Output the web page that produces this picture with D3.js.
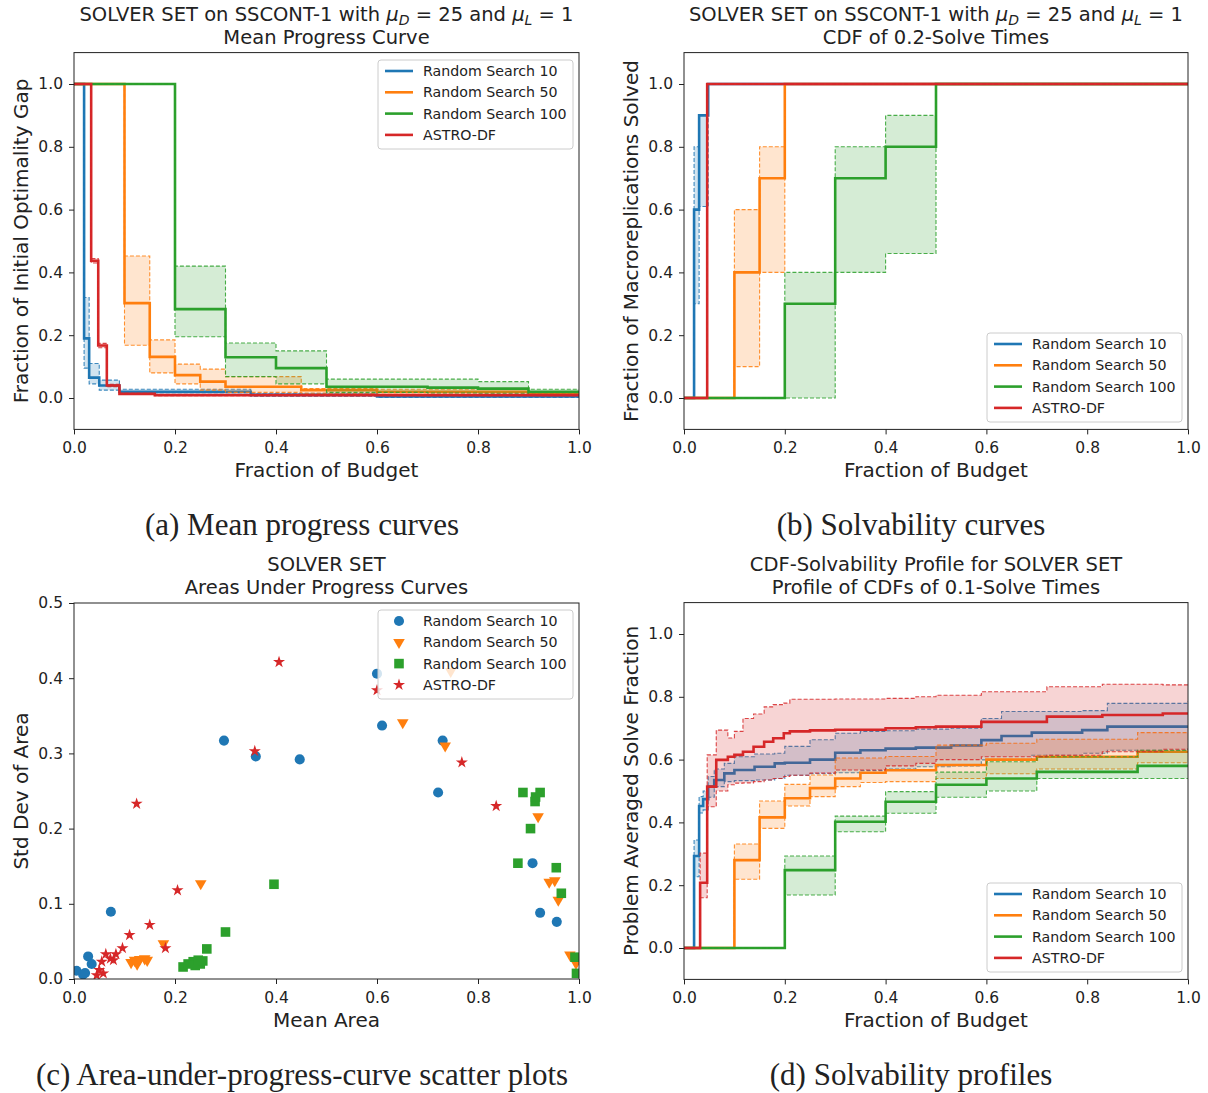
<!DOCTYPE html>
<html>
<head>
<meta charset="utf-8">
<script src="https://cdn.jsdelivr.net/npm/d3@7"></script>
<style>
  body { margin: 0; background: #fff; }
  text { font-family: "DejaVu Sans", sans-serif; fill: #222; }
  .caption { font-family: "Liberation Serif", serif; }
</style>
</head>
<body>
<svg id="fig" width="1208" height="1093"></svg>
<script>
const solvers = ["Random Search 10", "Random Search 50", "Random Search 100", "ASTRO-DF"];
const colors = ["#1f77b4", "#ff7f0e", "#2ca02c", "#d62728"];
const unitTicks = [0, 0.2, 0.4, 0.6, 0.8, 1.0];
const sdTicks = [0, 0.1, 0.2, 0.3, 0.4, 0.5];

// (a) mean progress curves, one array per solver (step after)
const mpcBudget = [
  [0, 0.02, 0.03, 0.05, 0.09, 0.35, 0.6, 1.0],
  [0, 0.1, 0.15, 0.2, 0.25, 0.3, 0.45, 0.6, 0.9, 1.0],
  [0, 0.2, 0.3, 0.4, 0.5, 0.7, 0.8, 0.9, 1.0],
  [0, 0.034, 0.048, 0.065, 0.09, 0.16, 1.0]
];
const mpcMean = [
  [1, 0.19, 0.065, 0.04, 0.02, 0.01, 0.005, 0.005],
  [1, 0.302, 0.131, 0.073, 0.052, 0.036, 0.025, 0.02, 0.015, 0.015],
  [1, 0.283, 0.13, 0.095, 0.036, 0.033, 0.03, 0.02, 0.02],
  [1, 0.437, 0.167, 0.04, 0.013, 0.009, 0.009]
];
const mpcLower = [
  [1, 0.095, 0.045, 0.025, 0.012, 0.006, 0.002, 0.002],
  [1, 0.168, 0.08, 0.045, 0.025, 0.018, 0.015, 0.012, 0.01, 0.01],
  [1, 0.195, 0.068, 0.045, 0.018, 0.016, 0.015, 0.012, 0.012],
  [1, 0.43, 0.16, 0.036, 0.011, 0.007, 0.007]
];
const mpcUpper = [
  [1, 0.32, 0.11, 0.057, 0.028, 0.015, 0.008, 0.008],
  [1, 0.452, 0.185, 0.108, 0.092, 0.068, 0.03, 0.028, 0.02, 0.02],
  [1, 0.42, 0.175, 0.15, 0.06, 0.06, 0.052, 0.028, 0.028],
  [1, 0.444, 0.174, 0.044, 0.015, 0.011, 0.011]
];

// (b) CDF of 0.2-solve times
const cdfBudget = [
  [0, 0.02, 0.03, 0.048, 1.0],
  [0, 0.1, 0.15, 0.2, 1.0],
  [0, 0.2, 0.3, 0.4, 0.5, 1.0],
  [0, 0.046, 1.0]
];
const cdfMean = [
  [0, 0.6, 0.9, 1, 1],
  [0, 0.4, 0.7, 1, 1],
  [0, 0.3, 0.7, 0.8, 1, 1],
  [0, 1, 1]
];
const cdfLower = [
  [0, 0.3, 0.61, 1, 1],
  [0, 0.1, 0.4, 1, 1],
  [0, 0, 0.4, 0.46, 1, 1],
  [0, 1, 1]
];
const cdfUpper = [
  [0, 0.8, 0.9, 1, 1],
  [0, 0.6, 0.8, 1, 1],
  [0, 0.4, 0.8, 0.9, 1, 1],
  [0, 1, 1]
];

// (c) area under progress curve: mean and std dev per macroreplication
const areaMean = [
  [0.005, 0.018, 0.022, 0.028, 0.035, 0.073, 0.297, 0.36, 0.447, 0.60, 0.61, 0.721, 0.73, 0.908, 0.923, 0.956],
  [0.113, 0.12, 0.125, 0.13, 0.14, 0.145, 0.177, 0.251, 0.651, 0.735, 0.746, 0.919, 0.941, 0.952, 0.959, 0.982, 0.994],
  [0.216, 0.226, 0.236, 0.24, 0.246, 0.25, 0.255, 0.263, 0.30, 0.396, 0.879, 0.889, 0.904, 0.913, 0.914, 0.923, 0.955, 0.965, 0.992, 0.995],
  [0.045, 0.05, 0.055, 0.058, 0.063, 0.072, 0.078, 0.083, 0.096, 0.11, 0.124, 0.15, 0.181, 0.205, 0.358, 0.406, 0.60, 0.768, 0.836]
];
const areaStd = [
  [0.011, 0.006, 0.008, 0.030, 0.020, 0.0895, 0.317, 0.296, 0.292, 0.406, 0.337, 0.248, 0.317, 0.154, 0.088, 0.076],
  [0.022, 0.025, 0.02, 0.026, 0.027, 0.025, 0.047, 0.127, 0.341, 0.31, 0.409, 0.216, 0.129, 0.131, 0.105, 0.032, 0.021],
  [0.016, 0.02, 0.023, 0.018, 0.025, 0.02, 0.024, 0.040, 0.0625, 0.126, 0.154, 0.248, 0.200, 0.236, 0.242, 0.248, 0.148, 0.114, 0.029, 0.0075],
  [0.005, 0.012, 0.023, 0.0075, 0.033, 0.027, 0.025, 0.033, 0.041, 0.0585, 0.233, 0.072, 0.041, 0.118, 0.303, 0.4215, 0.384, 0.288, 0.23]
];

// (d) profile of CDFs of 0.1-solve times
const profBudget = [
  [0, 0.02, 0.03, 0.038, 0.048, 0.06, 0.08, 0.1, 0.14, 0.18, 0.2, 0.25, 0.3, 0.35, 0.4, 0.46, 0.53, 0.59, 0.63, 0.69, 0.79, 0.84, 1.0],
  [0, 0.1, 0.15, 0.2, 0.25, 0.3, 0.35, 0.4, 0.5, 0.6, 0.7, 0.9, 1.0],
  [0, 0.2, 0.3, 0.4, 0.5, 0.6, 0.7, 0.9, 1.0],
  [0, 0.032, 0.046, 0.064, 0.087, 0.1, 0.117, 0.138, 0.159, 0.177, 0.198, 0.21, 0.25, 0.3, 0.4, 0.46, 0.5, 0.59, 0.72, 0.83, 0.95, 1.0]
];
const profMean = [
  [0, 0.293, 0.452, 0.474, 0.514, 0.535, 0.556, 0.567, 0.577, 0.588, 0.59, 0.60, 0.622, 0.63, 0.635, 0.638, 0.645, 0.662, 0.675, 0.686, 0.694, 0.705, 0.705],
  [0, 0.28, 0.416, 0.477, 0.509, 0.54, 0.558, 0.566, 0.583, 0.60, 0.609, 0.625, 0.625],
  [0, 0.248, 0.402, 0.466, 0.52, 0.54, 0.561, 0.58, 0.58],
  [0, 0.208, 0.514, 0.599, 0.609, 0.615, 0.625, 0.641, 0.657, 0.668, 0.684, 0.69, 0.693, 0.695, 0.70, 0.703, 0.705, 0.72, 0.737, 0.742, 0.747, 0.747]
];
const profLower = [
  [0, 0.227, 0.43, 0.44, 0.48, 0.514, 0.53, 0.533, 0.535, 0.54, 0.55, 0.555, 0.558, 0.565, 0.57, 0.577, 0.58, 0.599, 0.60, 0.614, 0.62, 0.63, 0.636],
  [0, 0.219, 0.381, 0.452, 0.482, 0.514, 0.527, 0.53, 0.54, 0.555, 0.57, 0.59, 0.59],
  [0, 0.169, 0.37, 0.429, 0.48, 0.5, 0.54, 0.54, 0.54],
  [0, 0.16, 0.45, 0.50, 0.52, 0.525, 0.526, 0.53, 0.535, 0.54, 0.546, 0.55, 0.557, 0.567, 0.58, 0.588, 0.60, 0.609, 0.614, 0.625, 0.633, 0.633]
];
const profUpper = [
  [0, 0.344, 0.482, 0.50, 0.546, 0.57, 0.588, 0.609, 0.618, 0.62, 0.642, 0.663, 0.684, 0.69, 0.692, 0.697, 0.70, 0.731, 0.753, 0.753, 0.756, 0.779, 0.785],
  [0, 0.331, 0.468, 0.521, 0.551, 0.605, 0.605, 0.61, 0.646, 0.652, 0.665, 0.686, 0.686],
  [0, 0.293, 0.42, 0.498, 0.56, 0.593, 0.609, 0.63, 0.63],
  [0, 0.302, 0.615, 0.694, 0.669, 0.69, 0.731, 0.745, 0.768, 0.775, 0.78, 0.792, 0.792, 0.793, 0.795, 0.80, 0.805, 0.816, 0.832, 0.84, 0.838, 0.838]
];

const svg = d3.select("#fig");
const fmt = d3.format(".1f");

function makeAxes(id, box, xDom, yDom, xTicks, yTicks) {
  const x = d3.scaleLinear().domain(xDom).range([box.left, box.right]);
  const y = d3.scaleLinear().domain(yDom).range([box.bottom, box.top]);
  const g = svg.append("g").attr("id", id);

  g.append("clipPath").attr("id", id + "-clip")
    .append("rect")
    .attr("x", box.left).attr("y", box.top)
    .attr("width", box.right - box.left).attr("height", box.bottom - box.top);

  const xAxis = g.append("g")
    .attr("transform", `translate(0,${box.bottom})`)
    .call(d3.axisBottom(x).tickValues(xTicks).tickFormat(fmt).tickSize(5).tickPadding(8));
  const yAxis = g.append("g")
    .attr("transform", `translate(${box.left},0)`)
    .call(d3.axisLeft(y).tickValues(yTicks).tickFormat(fmt).tickSize(5).tickPadding(6));
  [xAxis, yAxis].forEach(a => {
    a.select(".domain").remove();
    a.selectAll("line").attr("stroke", "#222").attr("stroke-width", 1);
    a.selectAll("text").style("font-size", "15.5px").attr("fill", "#222")
      .style("font-family", "DejaVu Sans");
  });

  const plot = g.append("g").attr("clip-path", `url(#${id}-clip)`);
  return { g, plot, x, y, box };
}

function frame(ax) {
  ax.g.append("rect")
    .attr("x", ax.box.left).attr("y", ax.box.top)
    .attr("width", ax.box.right - ax.box.left).attr("height", ax.box.bottom - ax.box.top)
    .attr("fill", "none").attr("stroke", "#222").attr("stroke-width", 1);
}

function labels(ax, title1, xLabel, yLabel, titleLine2) {
  const cx = (ax.box.left + ax.box.right) / 2;
  const cy = (ax.box.top + ax.box.bottom) / 2;
  const t = ax.g.append("text")
    .attr("x", cx).attr("y", ax.box.top - 32)
    .attr("text-anchor", "middle").style("font-size", "19.5px");
  title1(t);
  ax.g.append("text")
    .attr("x", cx).attr("y", ax.box.top - 9)
    .attr("text-anchor", "middle").style("font-size", "19.5px")
    .text(titleLine2);
  ax.g.append("text")
    .attr("x", cx).attr("y", ax.box.bottom + 48)
    .attr("text-anchor", "middle").style("font-size", "20px")
    .text(xLabel);
  ax.g.append("text")
    .attr("transform", `translate(${ax.box.left - 46},${cy}) rotate(-90)`)
    .attr("text-anchor", "middle").style("font-size", "20px")
    .text(yLabel);
}

function mathTitle(t) {
  t.append("tspan").text("SOLVER SET on SSCONT-1 with ");
  t.append("tspan").style("font-style", "italic").text("μ");
  t.append("tspan").attr("dy", 4).style("font-size", "14px").style("font-style", "italic").text("D");
  t.append("tspan").attr("dy", -4).text(" = 25 and ");
  t.append("tspan").style("font-style", "italic").text("μ");
  t.append("tspan").attr("dy", 4).style("font-size", "14px").style("font-style", "italic").text("L");
  t.append("tspan").attr("dy", -4).text(" = 1");
}

function plainTitle(s) {
  return t => t.text(s);
}

function drawCurves(ax, budget, mean, lower, upper) {
  const line = d3.line().x(d => ax.x(d[0])).y(d => ax.y(d[1])).curve(d3.curveStepAfter);
  const area = d3.area().x(d => ax.x(d[0])).y0(d => ax.y(d[1])).y1(d => ax.y(d[2]))
    .curve(d3.curveStepAfter);
  solvers.forEach((s, i) => {
    const pts = budget[i].map((b, k) => [b, mean[i][k]]);
    const band = budget[i].map((b, k) => [b, lower[i][k], upper[i][k]]);
    ax.plot.append("path")
      .attr("d", line(pts))
      .attr("fill", "none").attr("stroke", colors[i]).attr("stroke-width", 2.6);
    ax.plot.append("path")
      .attr("d", area(band))
      .attr("fill", colors[i]).attr("fill-opacity", 0.2).attr("stroke", "none");
    [1, 2].forEach(j => {
      ax.plot.append("path")
        .attr("d", line(band.map(d => [d[0], d[j]])))
        .attr("fill", "none").attr("stroke", colors[i]).attr("stroke-width", 1.1)
        .attr("stroke-dasharray", "4,2").attr("stroke-opacity", 0.85);
    });
  });
}

function legendBox(ax, lx, ly, marker) {
  const g = ax.g.append("g").attr("transform", `translate(${lx},${ly})`);
  g.append("rect").attr("width", 195).attr("height", 89).attr("rx", 3)
    .attr("fill", "#fff").attr("fill-opacity", 0.8).attr("stroke", "#ccc");
  solvers.forEach((s, i) => {
    const yy = 11 + i * 21.3;
    if (marker) {
      marker(g, 21, yy, i);
    } else {
      g.append("line").attr("x1", 7).attr("x2", 35).attr("y1", yy).attr("y2", yy)
        .attr("stroke", colors[i]).attr("stroke-width", 2.6);
    }
    g.append("text").attr("x", 45).attr("y", yy + 5).style("font-size", "14.2px").text(s);
  });
}

const symbols = [d3.symbolCircle, d3.symbolTriangle, d3.symbolSquare, d3.symbolStar];
const symSizes = [80, 58, 92, 45];
function marker(g, mx, my, i) {
  g.append("path")
    .attr("d", d3.symbol().type(symbols[i]).size(symSizes[i])())
    .attr("transform", `translate(${mx},${my})` + (i === 1 ? " rotate(180)" : ""))
    .attr("fill", colors[i]);
}

function caption(x, y, s) {
  svg.append("text").attr("class", "caption")
    .attr("x", x).attr("y", y).attr("text-anchor", "middle")
    .style("font-size", "31px").style("font-family", "Liberation Serif")
    .text(s);
}

// (a)
const axA = makeAxes("pa", { left: 74, right: 579, top: 52.6, bottom: 429.4 }, [0, 1], [-0.1, 1.1], unitTicks, unitTicks);
drawCurves(axA, mpcBudget, mpcMean, mpcLower, mpcUpper);
frame(axA);
labels(axA, mathTitle, "Fraction of Budget", "Fraction of Initial Optimality Gap", "Mean Progress Curve");
legendBox(axA, 378, 60);

// (b)
const axB = makeAxes("pb", { left: 684, right: 1188, top: 52.6, bottom: 429.4 }, [0, 1], [-0.1, 1.1], unitTicks, unitTicks);
drawCurves(axB, cdfBudget, cdfMean, cdfLower, cdfUpper);
frame(axB);
labels(axB, mathTitle, "Fraction of Budget", "Fraction of Macroreplications Solved", "CDF of 0.2-Solve Times");
legendBox(axB, 987, 333);

// (c)
const axC = makeAxes("pc", { left: 74, right: 579, top: 603, bottom: 979 }, [0, 1], [0, 0.5], unitTicks, sdTicks);
solvers.forEach((s, i) => {
  areaMean[i].forEach((m, k) => marker(axC.plot, axC.x(m), axC.y(areaStd[i][k]), i));
});
frame(axC);
labels(axC, plainTitle("SOLVER SET"), "Mean Area", "Std Dev of Area", "Areas Under Progress Curves");
legendBox(axC, 378, 610, marker);

// (d)
const axD = makeAxes("pd", { left: 684, right: 1188, top: 602.6, bottom: 979.4 }, [0, 1], [-0.1, 1.1], unitTicks, unitTicks);
drawCurves(axD, profBudget, profMean, profLower, profUpper);
frame(axD);
labels(axD, plainTitle("CDF-Solvability Profile for SOLVER SET"), "Fraction of Budget", "Problem Averaged Solve Fraction", "Profile of CDFs of 0.1-Solve Times");
legendBox(axD, 987, 883);

caption(302, 535, "(a) Mean progress curves");
caption(911, 535, "(b) Solvability curves");
caption(302, 1085, "(c) Area-under-progress-curve scatter plots");
caption(911, 1085, "(d) Solvability profiles");
</script>
</body>
</html>
